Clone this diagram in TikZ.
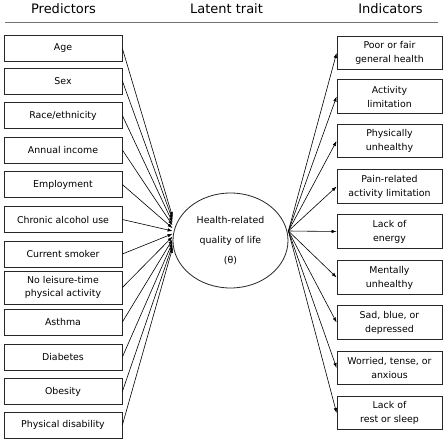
\documentclass[tikz,border=0pt]{standalone}
\usepackage{fontspec}
\setmainfont{DejaVu Sans}
\usetikzlibrary{arrows.meta,shapes.geometric}
\begin{document}
\begin{tikzpicture}[x=1pt,y=-1pt,
  lbox/.style={draw=black!85, line width=0.75pt, minimum width=118pt, minimum height=26pt, inner sep=1pt, align=center, font=\fontsize{9.4}{13}\selectfont},
  rbox/.style={draw=black!85, line width=0.75pt, minimum width=105pt, minimum height=33.5pt, inner sep=1pt, align=center, font=\fontsize{9.4}{14}\selectfont},
  hdr/.style={font=\fontsize{13}{15}\selectfont},
  arr/.style={-{Latex[length=5pt,width=3.5pt]}, line width=0.6pt},
  latent/.style={draw=black!85, line width=0.8pt, ellipse, minimum width=115pt, minimum height=95pt, inner sep=0pt, align=center, font=\fontsize{9.4}{20}\selectfont}]
\useasboundingbox (0,0) rectangle (445,440);
% headers
\node[hdr] (h1) at (63.5,9) {Predictors};
\node[hdr] (h2) at (226.5,9) {Latent trait};
\node[hdr] (h3) at (390.5,9) {Indicators};
\coordinate (la) at (5,22.5);
\coordinate (lb) at (438,22.5);
\draw[black!55, line width=1.4pt] (la) -- (lb);
% latent
\node[latent] (theta) at (230.5,240.5) {Health-related\\quality of life\\(θ)};
% predictors
\node[lbox] (l1) at (63,48.5) {Age};
\node[lbox] (l2) at (63,81) {Sex};
\node[lbox] (l3) at (63,115.5) {Race/ethnicity};
\node[lbox] (l4) at (63,150) {Annual income};
\node[lbox] (l5) at (63,184.5) {Employment};
\node[lbox] (l6) at (63,219.5) {Chronic alcohol use};
\node[lbox] (l7) at (63,254) {Current smoker};
\node[lbox, minimum height=33pt] (l8) at (63,287.5) {No leisure-time\\physical activity};
\node[lbox] (l9) at (63,322) {Asthma};
\node[lbox] (l10) at (63,357) {Diabetes};
\node[lbox] (l11) at (63,391.5) {Obesity};
\node[lbox] (l12) at (63,425) {Physical disability};
% indicators
\node[rbox] (r1) at (389.5,53) {Poor or fair\\general health};
\node[rbox] (r2) at (389.5,96.5) {Activity\\limitation};
\node[rbox] (r3) at (389.5,141) {Physically\\unhealthy};
\node[rbox] (r4) at (389.5,186.5) {Pain-related\\activity limitation};
\node[rbox] (r5) at (389.5,231.5) {Lack of\\energy};
\node[rbox] (r6) at (389.5,277.5) {Mentally\\unhealthy};
\node[rbox] (r7) at (389.5,322.5) {Sad, blue, or\\depressed};
\node[rbox] (r8) at (389.5,368) {Worried, tense, or\\anxious};
\node[rbox] (r9) at (389.5,413) {Lack of\\rest or sleep};
% predictor arrows
\foreach \i/\s in {1/23.5,2/20.7,3/17.9,4/15.1,5/12.3,6/9.5,7/6.7,8/3.9,9/1.1,10/-1.7,11/-4.5,12/-7.3}
  \draw[arr] (l\i.east) -- ([yshift=\s pt]theta.west);
% indicator arrows
\foreach \i in {1,...,9}
  \draw[arr] ([yshift=9.5pt]theta.east) -- (r\i.west);
\end{tikzpicture}
\end{document}
